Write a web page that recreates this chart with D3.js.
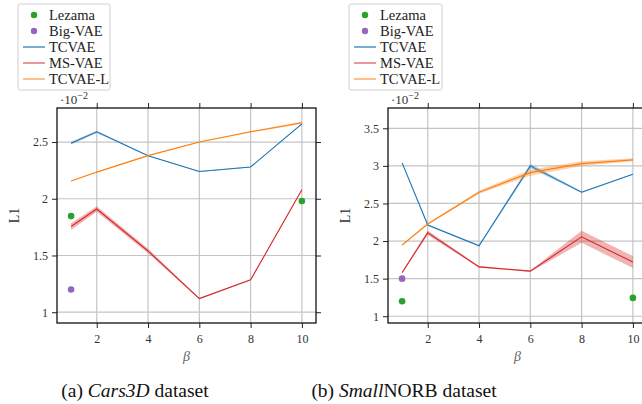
<!DOCTYPE html>
<html>
<head>
<meta charset="utf-8">
<script src="https://cdn.jsdelivr.net/npm/d3@7"></script>
<style>
  body { margin: 0; background: #fff; }
  svg text { font-family: "Liberation Serif", "DejaVu Serif", serif; }
</style>
</head>
<body>
<svg id="fig" width="642" height="404"></svg>
<script>
// data ------------------------------------------------------------
var betas = [1, 2, 4, 6, 8, 10];
var xTicks = [2, 4, 6, 8, 10];
var legendNames = ["Lezama", "Big-VAE", "TCVAE", "MS-VAE", "TCVAE-L"];

// Cars3D
var carsTCVAE = [2.49, 2.59, 2.38, 2.24, 2.28, 2.66];
var carsTCVAEErr = [0.012, 0.01, 0.004, 0.004, 0.004, 0.005];
var carsMSVAE = [1.755, 1.91, 1.54, 1.12, 1.285, 2.08];
var carsMSVAEErr = [0.03, 0.025, 0.02, 0.005, 0.004, 0.004];
var carsTCVAEL = [2.156, 2.235, 2.38, 2.50, 2.59, 2.67];
var carsTCVAELErr = [0.004, 0.004, 0.004, 0.004, 0.006, 0.01];
var carsLezamaX = [1, 10];
var carsLezama = [1.847, 1.98];
var carsBigVAE = [1.2];
var carsYTicks = [1, 1.5, 2, 2.5];

// SmallNORB
var norbTCVAE = [3.04, 2.213, 1.937, 3.00, 2.65, 2.89];
var norbTCVAEErr = [0.005, 0.01, 0.01, 0.03, 0.01, 0.005];
var norbMSVAE = [1.58, 2.11, 1.657, 1.60, 2.057, 1.72];
var norbMSVAEErr = [0.005, 0.03, 0.01, 0.01, 0.08, 0.08];
var norbTCVAEL = [1.947, 2.227, 2.65, 2.91, 3.03, 3.08];
var norbTCVAELErr = [0.005, 0.01, 0.02, 0.04, 0.03, 0.02];
var norbLezamaX = [1, 10];
var norbLezama = [1.2, 1.244];
var norbBigVAE = [1.5];
var norbYTicks = [1, 1.5, 2, 2.5, 3, 3.5];

var colors = {
  Lezama: "#2ca02c", "Big-VAE": "#9467bd",
  TCVAE: "#1f77b4", "MS-VAE": "#d62728", "TCVAE-L": "#ff7f0e"
};
//-----------------------------------------------------------------

var svg = d3.select("#fig");

var drawPanel = function(opt) {
  var g = svg.append("g");
  var x = d3.scaleLinear().domain([0.45, 10.55]).range([opt.left, opt.right]);
  var y = d3.scaleLinear().domain(opt.yDomain).range([opt.bottom, opt.top]);

  // grid
  g.append("g").selectAll("line").data(xTicks).enter().append("line")
    .attr("x1", function(d){ return x(d); }).attr("x2", function(d){ return x(d); })
    .attr("y1", opt.top).attr("y2", opt.bottom)
    .attr("stroke", "#c4c4c4").attr("stroke-width", 1.2);
  g.append("g").selectAll("line").data(opt.yTicks).enter().append("line")
    .attr("y1", function(d){ return y(d); }).attr("y2", function(d){ return y(d); })
    .attr("x1", opt.left).attr("x2", opt.right)
    .attr("stroke", "#c4c4c4").attr("stroke-width", 1.2);

  // axes (ticks outward on all four sides)
  var fmt = function(d){ return d3.format("")(d); };
  var xb = g.append("g").attr("transform", "translate(0," + opt.bottom + ")")
    .call(d3.axisBottom(x).tickValues(xTicks).tickSize(5).tickPadding(6).tickFormat(fmt));
  var xt = g.append("g").attr("transform", "translate(0," + opt.top + ")")
    .call(d3.axisTop(x).tickValues(xTicks).tickSize(5).tickFormat(""));
  var yl = g.append("g").attr("transform", "translate(" + opt.left + ",0)")
    .call(d3.axisLeft(y).tickValues(opt.yTicks).tickSize(5).tickPadding(4).tickFormat(fmt));
  var yr = g.append("g").attr("transform", "translate(" + opt.right + ",0)")
    .call(d3.axisRight(y).tickValues(opt.yTicks).tickSize(5).tickFormat(""));
  [xb, xt, yl, yr].forEach(function(a){
    a.attr("font-family", null);
    a.select(".domain").remove();
    a.selectAll(".tick line").attr("stroke", "#222").attr("stroke-width", 1);
    a.selectAll("text").attr("font-size", 12).attr("fill", "#333");
  });
  g.append("rect").attr("x", opt.left).attr("y", opt.top)
    .attr("width", opt.right - opt.left).attr("height", opt.bottom - opt.top)
    .attr("fill", "none").attr("stroke", "#111").attr("stroke-width", 1.3);

  // series with shaded bands
  opt.series.forEach(function(s){
    var area = d3.area()
      .x(function(d, i){ return x(betas[i]); })
      .y0(function(d, i){ return y(d - s.err[i]); })
      .y1(function(d, i){ return y(d + s.err[i]); });
    g.append("path").datum(s.vals).attr("d", area)
      .attr("fill", colors[s.name]).attr("fill-opacity", 0.35).attr("stroke", "none");
    var line = d3.line()
      .x(function(d, i){ return x(betas[i]); })
      .y(function(d){ return y(d); });
    g.append("path").datum(s.vals).attr("d", line)
      .attr("fill", "none").attr("stroke", colors[s.name]).attr("stroke-width", 1.1);
  });

  // baselines as points
  g.append("g").selectAll("circle").data(opt.lezama).enter().append("circle")
    .attr("cx", function(d, i){ return x(opt.lezamaX[i]); })
    .attr("cy", function(d){ return y(d); })
    .attr("r", 3.3).attr("fill", colors.Lezama);
  g.append("g").selectAll("circle").data(opt.bigvae).enter().append("circle")
    .attr("cx", x(1)).attr("cy", function(d){ return y(d); })
    .attr("r", 3.3).attr("fill", colors["Big-VAE"]);

  // labels
  g.append("text").attr("x", opt.left + 3).attr("y", opt.top - 4)
    .attr("font-size", 13).attr("fill", "#333")
    .html("\u00b710<tspan dy='-5' font-size='10'>\u22122</tspan>");
  g.append("text")
    .attr("transform", "translate(" + opt.ylabX + "," + ((opt.top + opt.bottom) / 2) + ") rotate(-90)")
    .attr("text-anchor", "middle").attr("font-size", 14).attr("fill", "#333").text("L1");
  g.append("text").attr("x", x(5.5)).attr("y", opt.bottom + 38)
    .attr("text-anchor", "middle").attr("font-size", 14).attr("font-style", "italic")
    .attr("fill", "#666").text("\u03b2");

  // legend
  var lg = g.append("g").attr("transform", "translate(" + opt.legX + ",4)");
  lg.append("rect").attr("x", 0).attr("y", 0).attr("width", opt.legW).attr("height", 86)
    .attr("rx", 2).attr("fill", "#fff").attr("stroke", "#d0d0d0").attr("stroke-width", 1);
  legendNames.forEach(function(n, i){
    var cy = 11 + i * 16;
    if (i < 2) {
      lg.append("circle").attr("cx", 16).attr("cy", cy).attr("r", 3.2).attr("fill", colors[n]);
    } else {
      lg.append("line").attr("x1", 5).attr("x2", 27).attr("y1", cy).attr("y2", cy)
        .attr("stroke", colors[n]).attr("stroke-width", 1.2).attr("opacity", n === "TCVAE" ? 1 : 0.8);
    }
    lg.append("text").attr("x", 31).attr("y", cy + 4.8).attr("font-size", 14.5)
      .attr("fill", "#222").text(n);
  });

  // caption
  svg.append("text").attr("x", opt.capX).attr("y", 397).attr("text-anchor", "middle")
    .attr("font-size", 19.5).attr("fill", "#111").html(opt.caption);
};

drawPanel({
  left: 57, right: 316, top: 108, bottom: 323,
  yDomain: [0.905, 2.80], yTicks: carsYTicks,
  series: [
    {name: "TCVAE", vals: carsTCVAE, err: carsTCVAEErr},
    {name: "MS-VAE", vals: carsMSVAE, err: carsMSVAEErr},
    {name: "TCVAE-L", vals: carsTCVAEL, err: carsTCVAELErr}
  ],
  lezama: carsLezama, lezamaX: carsLezamaX, bigvae: carsBigVAE,
  ylabX: 19, legX: 18, legW: 92, capX: 135,
  caption: "(a) <tspan font-style='italic'>Cars3D</tspan> dataset"
});

drawPanel({
  left: 388, right: 647, top: 108, bottom: 323,
  yDomain: [0.91, 3.77], yTicks: norbYTicks,
  series: [
    {name: "TCVAE", vals: norbTCVAE, err: norbTCVAEErr},
    {name: "MS-VAE", vals: norbMSVAE, err: norbMSVAEErr},
    {name: "TCVAE-L", vals: norbTCVAEL, err: norbTCVAELErr}
  ],
  lezama: norbLezama, lezamaX: norbLezamaX, bigvae: norbBigVAE,
  ylabX: 350, legX: 349, legW: 93, capX: 404,
  caption: "(b) <tspan font-style='italic'>Small</tspan>NORB dataset"
});
</script>
</body>
</html>
